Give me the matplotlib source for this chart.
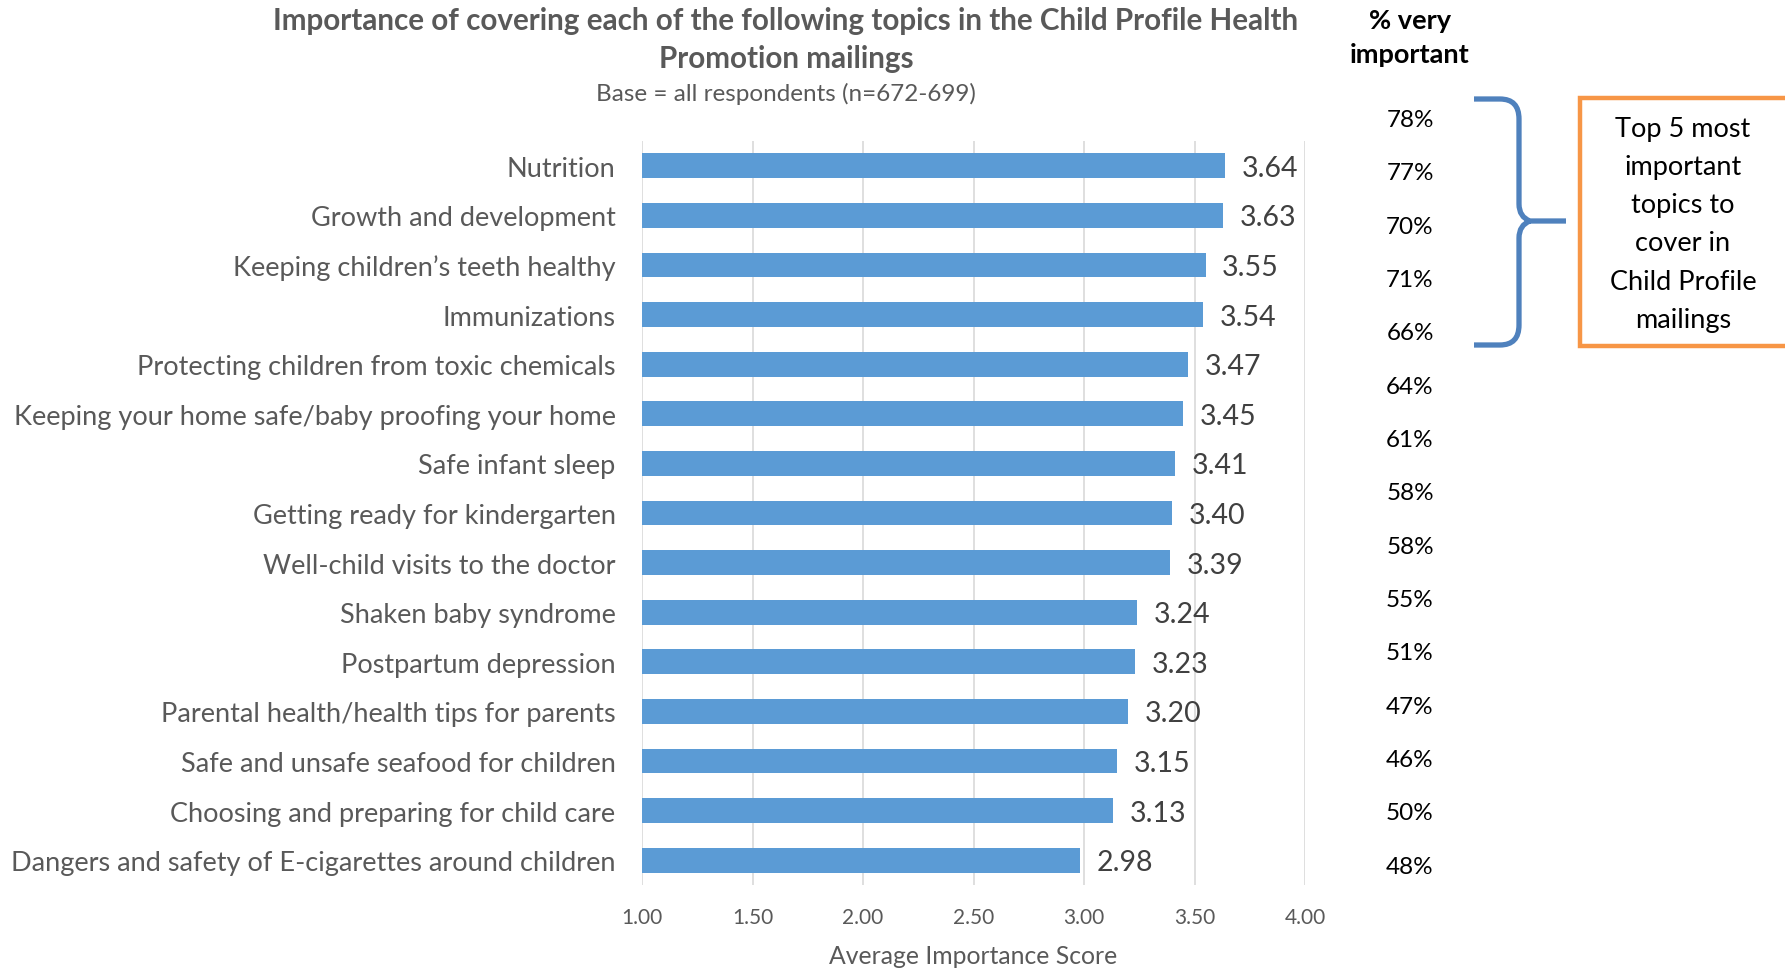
import numpy as np
import matplotlib.pyplot as plt
from matplotlib.path import Path
from matplotlib.patches import PathPatch, Rectangle

plt.rcParams['font.family'] = ['Lato', 'DejaVu Sans']

# Data
topics = [
    "Nutrition",
    "Growth and development",
    "Keeping children\u2019s teeth healthy",
    "Immunizations",
    "Protecting children from toxic chemicals",
    "Keeping your home safe/baby proofing your home",
    "Safe infant sleep",
    "Getting ready for kindergarten",
    "Well-child visits to the doctor",
    "Shaken baby syndrome",
    "Postpartum depression",
    "Parental health/health tips for parents",
    "Safe and unsafe seafood for children",
    "Choosing and preparing for child care",
    "Dangers and safety of E-cigarettes around children",
]
scores = [3.64, 3.63, 3.55, 3.54, 3.47, 3.45, 3.41, 3.40, 3.39,
          3.24, 3.23, 3.20, 3.15, 3.13, 2.98]
pct_very = [78, 77, 70, 71, 66, 64, 61, 58, 58, 55, 51, 47, 46, 50, 48]
xticks = [1.00, 1.50, 2.00, 2.50, 3.00, 3.50, 4.00]

W, H = 1785, 970
fig = plt.figure(figsize=(W / 100, H / 100), dpi=100)

def fx(px):
    return px / W

def fy(py):
    return 1 - py / H

# axes placed in pixel terms of the reference
ax = fig.add_axes([fx(642), fy(886), fx(1305) - fx(642), fy(142) - fy(886)])

y = np.arange(len(topics))
base = 1.0
ax.barh(y, np.array(scores) - base, left=base, height=0.5, color='#5B9BD5', zorder=3)
ax.set_ylim(len(topics) - 0.5, -0.5)
ax.set_xlim(1.0, 4.0)
ax.set_xticks(xticks)
ax.set_xticklabels([f"{t:.2f}" for t in xticks], fontsize=15, color='#595959')
ax.set_yticks(y)
ax.set_yticklabels(topics, fontsize=19.5, color='#595959')
for lbl in ax.get_yticklabels():
    lbl.set_va('center_baseline')
ax.tick_params(axis='both', length=0)
ax.tick_params(axis='y', pad=19)
ax.tick_params(axis='x', pad=16)
ax.grid(axis='x', color='#D9D9D9', linewidth=1.2, zorder=0)
for s in ax.spines.values():
    s.set_visible(False)
ax.set_xlabel('Average Importance Score', fontsize=17.8, color='#595959', labelpad=12)

for yi, v in zip(y, scores):
    ax.annotate(f"{v:.2f}", (v, yi), xytext=(12, -1.5), textcoords='offset points',
                va='center', ha='left', fontsize=20.5, color='#404040')

# titles
fig.text(fx(786), fy(21), "Importance of covering each of the following topics in the Child Profile Health",
         ha='center', va='center', fontsize=21.3, fontweight='bold', color='#595959')
fig.text(fx(786), fy(59), "Promotion mailings",
         ha='center', va='center', fontsize=21.3, fontweight='bold', color='#595959')
fig.text(fx(786), fy(94), "Base = all respondents (n=672-699)",
         ha='center', va='center', fontsize=17.5, color='#595959')

# % very important column
fig.text(fx(1410), fy(21), "% very", ha='center', va='center', fontsize=19.5,
         fontweight='bold', color='#000000')
fig.text(fx(1410), fy(55), "important", ha='center', va='center', fontsize=19.5,
         fontweight='bold', color='#000000')
row_top, row_bot = 120.5, 867
step = (row_bot - row_top) / (len(pct_very) - 1)
for i, p in enumerate(pct_very):
    fig.text(fx(1410), fy(row_top + i * step), f"{p}%", ha='center', va='center',
             fontsize=17.5, color='#000000')

# curly bracket
pts = [(1474, 100), (1500, 100), (1519, 100), (1519, 120),
       (1519, 205), (1519, 218), (1530, 222), (1566, 222),
       (1530, 222), (1519, 226), (1519, 239),
       (1519, 326), (1519, 346), (1500, 346), (1474, 346)]
codes = [Path.MOVETO, Path.LINETO, Path.CURVE3, Path.CURVE3,
         Path.LINETO, Path.CURVE3, Path.CURVE3, Path.LINETO,
         Path.MOVETO, Path.CURVE3, Path.CURVE3,
         Path.LINETO, Path.CURVE3, Path.CURVE3, Path.LINETO]
verts = [(fx(a), fy(b)) for a, b in pts]
fig.add_artist(PathPatch(Path(verts, codes), transform=fig.transFigure,
                         facecolor='none', edgecolor='#4F81BD', linewidth=3.8,
                         capstyle='butt', joinstyle='round'))

# orange call-out box
fig.add_artist(Rectangle((fx(1580), fy(347)), fx(1800) - fx(1580), fy(99) - fy(347),
                         transform=fig.transFigure, facecolor='white',
                         edgecolor='#F79646', linewidth=3.2))
box_lines = ["Top 5 most", "important", "topics to", "cover in", "Child Profile", "mailings"]
for i, line in enumerate(box_lines):
    fig.text(fx(1683), fy(129 + i * 38.3), line, ha='center', va='center',
             fontsize=19.5, color='#000000')

fig.savefig('out.png', dpi=100)
